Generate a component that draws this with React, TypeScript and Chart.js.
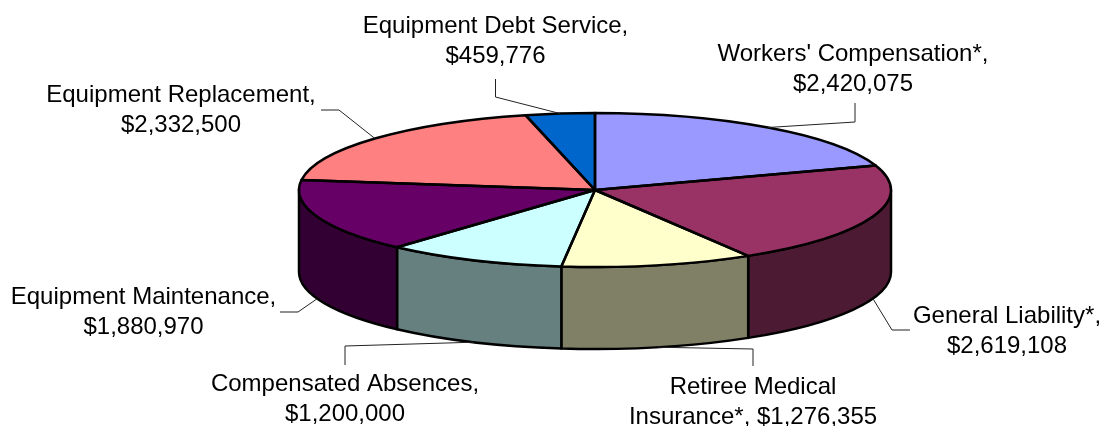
import React, { useEffect, useRef } from "react";
import { Chart, registerables } from "chart.js";

Chart.register(...registerables);

// Budget categories, clockwise from twelve o'clock. "\n" marks a forced label break.
const categories = [
  "Workers' Compensation*",
  "General Liability*",
  "Retiree Medical\nInsurance*",
  "Compensated Absences",
  "Equipment Maintenance",
  "Equipment Replacement",
  "Equipment Debt Service",
];
const amounts = [2420075, 2619108, 1276355, 1200000, 1880970, 2332500, 459776];

// Top faces and the darker rim of each slice.
const topColors = ["#9999FF", "#993366", "#FFFFCC", "#CCFFFF", "#660066", "#FF8080", "#0066CC"];
const rimColors = ["#4D4D80", "#4D1A33", "#808066", "#668080", "#330033", "#804040", "#003366"];

// Tilted-disc geometry.
const DISC_RX = 296;
const DISC_RY = 77;
const DISC_DEPTH = 82;

// Label centre x, first baseline y, and the elbow of each leader line.
const labelX = [853, 1007, 753, 345, 143.5, 181, 495.5];
const labelY = [61, 323, 394, 391, 304, 102, 33];
const leaderElbows = [
  [[855, 103], [855, 122]],
  [[910, 330], [892, 330]],
  [[753, 366], [753, 349]],
  [[345, 365], [345, 346]],
  [[280, 312], [298, 312]],
  [[321, 110], [339, 110]],
  [[495.5, 79], [495.5, 97]],
];

const LABEL_FONT = '24px "Liberation Sans", Arial, sans-serif';
const LINE_HEIGHT = 29.5;
const OUTLINE_WIDTH = 2.5;

const money = (v: number) => "$" + v.toLocaleString("en-US");

function labelLines(i: number): string[] {
  const parts = categories[i].split("\n");
  if (parts.length > 1) return [parts[0], `${parts[1]}, ${money(amounts[i])}`];
  return [`${parts[0]},`, money(amounts[i])];
}

// Squashes the library's pie into an ellipse and adds the rim, leaders and labels.
const discPlugin = {
  id: "tiltedDisc",
  beforeDatasetsDraw(chart: any) {
    const { ctx } = chart;
    const arcs = chart.getDatasetMeta(0).data;
    const { x: cx, y: cy, outerRadius } = arcs[0];

    // Rim: only the part of each slice facing the viewer.
    arcs.forEach((arc: any, i: number) => {
      const a = Math.max(arc.startAngle, 0);
      const b = Math.min(arc.endAngle, Math.PI);
      if (b <= a) return;
      ctx.beginPath();
      ctx.ellipse(cx, cy, DISC_RX, DISC_RY, 0, a, b);
      ctx.ellipse(cx, cy + DISC_DEPTH, DISC_RX, DISC_RY, 0, b, a, true);
      ctx.closePath();
      ctx.fillStyle = rimColors[i];
      ctx.fill();
      ctx.strokeStyle = "#000";
      ctx.lineWidth = OUTLINE_WIDTH;
      ctx.lineJoin = "round";
      ctx.stroke();
    });

    ctx.save();
    ctx.translate(cx, cy);
    ctx.scale(DISC_RX / outerRadius, DISC_RY / outerRadius);
    ctx.translate(-cx, -cy);
  },
  afterDatasetsDraw(chart: any) {
    const { ctx } = chart;
    ctx.restore();
    const arcs = chart.getDatasetMeta(0).data;
    const { x: cx, y: cy } = arcs[0];

    // Slice outlines at a uniform line width.
    arcs.forEach((arc: any) => {
      ctx.beginPath();
      ctx.moveTo(cx, cy);
      ctx.ellipse(cx, cy, DISC_RX, DISC_RY, 0, arc.startAngle, arc.endAngle);
      ctx.closePath();
      ctx.strokeStyle = "#000";
      ctx.lineWidth = OUTLINE_WIDTH;
      ctx.lineJoin = "round";
      ctx.stroke();
    });

    // Leader lines end on the slice's mid-angle, on the rim when it faces the viewer.
    arcs.forEach((arc: any, i: number) => {
      const mid = (arc.startAngle + arc.endAngle) / 2;
      const sin = Math.sin(mid);
      const ex = cx + DISC_RX * Math.cos(mid);
      const ey = cy + DISC_RY * sin + (sin > 0 ? DISC_DEPTH : 0);
      const [p0, p1] = leaderElbows[i];
      ctx.beginPath();
      ctx.moveTo(p0[0], p0[1]);
      ctx.lineTo(p1[0], p1[1]);
      ctx.lineTo(ex, ey);
      ctx.strokeStyle = "#222";
      ctx.lineWidth = 1;
      ctx.stroke();
    });

    ctx.font = LABEL_FONT;
    ctx.fillStyle = "#000";
    ctx.textAlign = "center";
    ctx.textBaseline = "alphabetic";
    categories.forEach((_, i) => {
      labelLines(i).forEach((line, k) => {
        ctx.fillText(line, labelX[i], labelY[i] + k * LINE_HEIGHT);
      });
    });
  },
};

export default function App() {
  const canvasRef = useRef<HTMLCanvasElement | null>(null);

  useEffect(() => {
    document.body.style.margin = "0";
    const chart = new Chart(canvasRef.current as HTMLCanvasElement, {
      type: "pie",
      data: {
        labels: categories,
        datasets: [
          {
            data: amounts,
            backgroundColor: topColors,
            borderWidth: 0,
            hoverOffset: 0,
            clip: false,
          } as any,
        ],
      },
      options: {
        responsive: false,
        animation: false,
        events: [],
        // Leaves a chart area centred on the disc.
        layout: { padding: { left: 86, right: 0, top: 0, bottom: 46 } },
        plugins: { legend: { display: false }, tooltip: { enabled: false } },
      },
      plugins: [discPlugin],
    });
    return () => chart.destroy();
  }, []);

  return <canvas ref={canvasRef} width={1104} height={426} style={{ display: "block" }} />;
}
